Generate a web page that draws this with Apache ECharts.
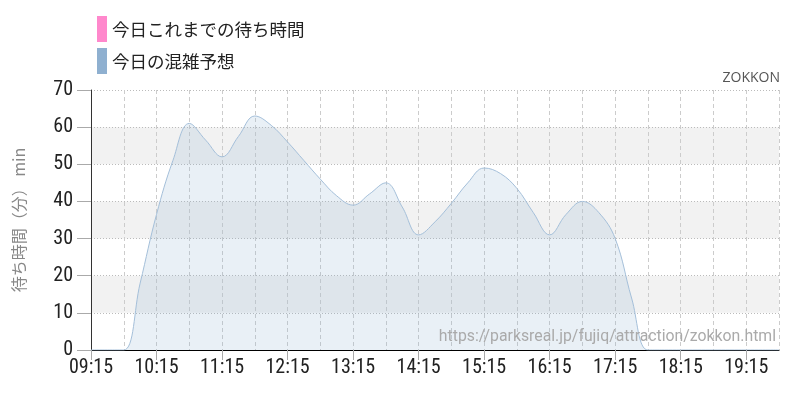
<!DOCTYPE html>
<html><head><meta charset="utf-8">
<script src="https://cdn.jsdelivr.net/npm/echarts@6/dist/echarts.min.js"></script>
<style>html,body{margin:0;padding:0;background:#fff}#c{width:800px;height:400px}</style>
</head><body><div id="c"></div>
<script>
const times = ['09:15','09:30','09:45','10:00','10:15','10:30','10:45','11:00','11:15','11:30','11:45','12:00','12:15','12:30','12:45','13:00','13:15','13:30','13:45','14:00','14:15','14:30','14:45','15:00','15:15','15:30','15:45','16:00','16:15','16:30','16:45','17:00','17:15','17:30','17:45','18:00','18:15','18:30','18:45','19:00','19:15','19:30','19:45'];
const forecast = [0,0,0,18,36.5,51,61,56.5,52,57.5,63,60.5,56,51,46,41.5,39,42,45,38.5,31,34.5,39.5,45,49,47.5,43.5,37,31,36.5,40,37,30,14,0,0,0,0,0,0,0,0,0];
const todaySoFar = [];
const seriesNames = ['今日これまでの待ち時間','今日の混雑予想'];
const yTicks = {min:0, max:70, step:10};
const yName = '待ち時間（分） min';
const numFont = '"Roboto Condensed","Liberation Sans Narrow","DejaVu Sans Condensed","Roboto",sans-serif';
const jpFont = '"Noto Sans CJK JP","Noto Sans",sans-serif';

const chart = echarts.init(document.getElementById('c'), null, {renderer:'canvas'});
chart.setOption({
  animation:false,
  backgroundColor:'#fff',
  legend:{
    orient:'vertical', left:92, top:11, itemGap:6,
    itemWidth:10, itemHeight:26, icon:'rect',
    textStyle:{fontSize:17.5, color:'#222', fontFamily:jpFont},
    data:seriesNames
  },
  grid:{left:91, right:21, top:90, bottom:50},
  xAxis:{
    type:'category', data:times, boundaryGap:false,
    axisLine:{lineStyle:{color:'#000', width:1}},
    axisTick:{show:true, interval:3, length:10, lineStyle:{color:'#aaa'}},
    axisLabel:{interval:3, margin:8, fontSize:20, color:'#222', fontFamily:numFont},
    splitLine:{show:true, interval:1, lineStyle:{color:'#ccc', type:[4,3]}}
  },
  yAxis:{
    type:'value', min:yTicks.min, max:yTicks.max, interval:yTicks.step,
    name:yName, nameLocation:'middle', nameGap:64, nameRotate:90,
    nameTextStyle:{fontSize:16, color:'#888', fontFamily:jpFont},
    axisLine:{show:true, lineStyle:{color:'#333'}},
    axisTick:{show:true, length:14, lineStyle:{color:'#aaa'}},
    axisLabel:{margin:18, fontSize:20, color:'#222', fontFamily:numFont},
    splitLine:{show:true, lineStyle:{color:'#bbb', type:[1,2]}},
    splitArea:{show:true, areaStyle:{color:['rgba(0,0,0,0)','#f2f2f2']}}
  },
  series:[
    {name:seriesNames[0], type:'line', data:todaySoFar, color:'#ff88cc', itemStyle:{color:'#ff88cc'}, showSymbol:false},
    {name:seriesNames[1], type:'line', data:forecast, smooth:0.4, showSymbol:false,
     color:'#8fb0d0', itemStyle:{color:'#8fb0d0'},
     lineStyle:{color:'#a4bfd9', width:1},
     areaStyle:{color:'rgba(143,176,208,0.28)'}}
  ],
  graphic:[
    {type:'text', right:20, top:71, style:{text:'ZOKKON', fontSize:14, fill:'#555', fontFamily:'"Open Sans","Noto Sans",sans-serif'}},
    {type:'text', right:24, top:329, z:100, style:{text:'https://parksreal.jp/fujiq/attraction/zokkon.html', fontSize:15.8, fill:'#aaa', fontFamily:'Roboto,"Noto Sans",sans-serif'}}
  ]
});
</script></body></html>
